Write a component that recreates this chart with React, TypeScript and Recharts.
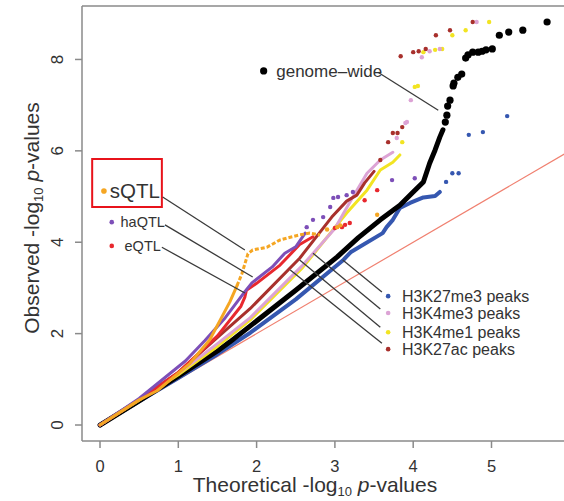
import { ComposedChart, Line, Scatter, XAxis, YAxis, ReferenceLine, ReferenceDot, ReferenceArea } from 'recharts'

// [theoretical, observed] pairs
const diagonal = [[0, 0], [5.93, 5.93]]

const genomeLine = [[0, 0], [0.5, 0.53], [1, 1.07], [1.5, 1.62], [1.66, 1.82], [1.92, 2.17], [2.5, 2.95], [3.03, 3.68], [3.3, 4.1], [3.58, 4.49], [3.83, 4.81], [4, 5.1], [4.13, 5.32], [4.21, 5.73], [4.28, 6.02], [4.34, 6.3], [4.38, 6.46]]
const genomeDots = [[4.41, 6.63], [4.43, 6.78], [4.44, 6.98], [4.47, 7.11], [4.51, 7.42], [4.52, 7.48], [4.57, 7.61], [4.62, 7.68], [4.67, 8.03], [4.7, 8.1], [4.76, 8.16], [4.83, 8.16], [4.88, 8.18], [4.93, 8.21], [5.01, 8.23], [5.1, 8.53], [5.22, 8.6], [5.4, 8.64], [5.71, 8.82]]

const k27me3Line = [[0, 0], [0.5, 0.52], [1, 1.03], [1.5, 1.55], [1.92, 2.02], [2.5, 2.75], [3.1, 3.6], [3.2, 3.78], [3.61, 4.2], [3.66, 4.33], [3.74, 4.49], [3.83, 4.75], [3.96, 4.86], [4.13, 4.98], [4.28, 5.01], [4.34, 5.1]]
const k27me3Dots = [[4.42, 5.32], [4.5, 5.51], [4.58, 5.51], [4.71, 6.35], [4.89, 6.41], [5.2, 6.76]]

const sqtlLine = [[0, 0], [0.5, 0.55], [0.73, 0.75], [1.15, 1.35], [1.4, 1.86], [1.66, 2.7], [1.75, 3.05]]
const sqtlChain = [[1.75, 3.05], [1.81, 3.3], [1.89, 3.75], [1.95, 3.83], [2.13, 3.89], [2.3, 4.05], [2.43, 4.11], [2.55, 4.16], [2.68, 4.2], [2.81, 4.16]]
const sqtlDots = [[2.9, 4.28], [3.03, 4.33], [3.07, 4.37], [3.54, 4.6]]

const haqtlLine = [[0, 0], [0.5, 0.58], [1.09, 1.4], [1.34, 1.85], [1.6, 2.35], [1.85, 2.92], [1.94, 3.11], [2.2, 3.46], [2.36, 3.76], [2.5, 3.9], [2.62, 4.2]]
const haqtlDots = [[2.64, 4.33], [2.72, 4.49], [2.85, 4.55], [2.94, 4.77], [2.98, 4.97], [3.04, 4.99], [3.15, 5.03], [3.23, 5.1], [3.73, 5.36], [4.02, 5.4]]

const eqtlLine = [[0, 0], [0.5, 0.56], [1, 1.15], [1.5, 1.95], [1.8, 2.6], [1.85, 2.8], [1.87, 2.95], [2, 3.1], [2.3, 3.5], [2.55, 3.95], [2.72, 4.12]]
const eqtlDots = [[3, 4.31], [3.09, 4.33], [3.13, 4.38], [3.19, 4.42], [3.38, 4.92], [3.54, 5.14]]

const k27acLine = [[0, 0], [0.5, 0.56], [1, 1.15], [1.49, 1.9], [1.92, 2.55], [2.55, 3.65], [2.96, 4.55], [3.15, 4.9], [3.28, 5.03], [3.38, 5.3], [3.5, 5.55]]
const k27acDots = [[3.58, 5.8], [3.68, 6.19], [3.74, 6.39], [3.8, 6.39], [3.86, 6.52], [3.84, 8.07], [4, 8.16], [4.07, 8.18], [4.16, 8.23], [4.29, 8.53], [4.47, 8.64], [4.76, 8.82]]

const k4me3Line = [[0, 0], [0.5, 0.56], [1, 1.13], [1.5, 1.78], [1.92, 2.35], [2.59, 3.5], [3, 4.3], [3.2, 4.9], [3.41, 5.51], [3.58, 5.8], [3.74, 5.97]]
const k4me3Dots = [[3.79, 6.28], [3.9, 6.61], [3.92, 6.63], [3.97, 7.11], [4.11, 8.05], [4.21, 8.18], [4.34, 8.23], [4.81, 8.82]]

const k4me1Line = [[0, 0], [0.5, 0.54], [1, 1.1], [1.5, 1.72], [1.92, 2.3], [2.59, 3.45], [3.15, 4.64], [3.41, 5.14], [3.58, 5.58], [3.74, 5.75], [3.83, 5.91]]
const k4me1Dots = [[3.86, 6.19], [4.02, 7.4], [4.06, 7.42], [4.13, 8.16], [4.28, 8.21], [4.37, 8.23], [4.5, 8.53], [4.67, 8.64], [4.97, 8.82]]

const xTicks = [0, 1, 2, 3, 4, 5]
const yTicks = [0, 2, 4, 6, 8]

const X_DOMAIN = [-0.23, 5.926]
const Y_DOMAIN = [-0.35, 9.17]

const FONT = '"Liberation Sans", Arial, Helvetica, sans-serif'
const AXIS = '#8a8a8a'
const INK = '#333'
const LEADER = '#3a3a3a'

const ORANGE = '#f5a623'
const PURPLE = '#7d4fb8'
const RED = '#e8282e'
const BLUE = '#3557b0'
const PINK = '#dca3d5'
const YELLOW = '#f2e422'
const DARKRED = '#a8302c'

const pts = (a: number[][]) => a.map(([x, y]) => ({ x, y }))

const dotShape = (color: string, r: number) => (p: any) => <circle cx={p.cx} cy={p.cy} r={r} fill={color} />

function YTick({ x, y, payload }: any) {
  const tx = x - 10
  return (
    <text x={tx} y={y} transform={`rotate(-90, ${tx}, ${y})`} textAnchor="middle" fontSize={17} fill={INK} fontFamily={FONT}>
      {payload.value}
    </text>
  )
}

function AxisTitle({ x, y, rotate, first }: { x: number; y: number; rotate?: boolean; first: string }) {
  return (
    <text x={x} y={y} textAnchor="middle" fontSize={21} fill={INK} fontFamily={FONT} transform={rotate ? `rotate(-90, ${x}, ${y})` : undefined}>
      <tspan>{first} -log</tspan>
      <tspan fontSize={13} dy={4}>10</tspan>
      <tspan dy={-4}> </tspan>
      <tspan fontStyle="italic">p</tspan>
      <tspan>-values</tspan>
    </text>
  )
}

function series(line: number[][], dots: number[][], color: string, width: number, r: number, key: string) {
  return [
    <Line key={key + 'l'} data={pts(line)} dataKey="y" type="linear" stroke={color} strokeWidth={width} strokeLinecap="round" strokeLinejoin="round" dot={false} isAnimationActive={false} />,
    <Scatter key={key + 's'} data={pts(dots)} dataKey="y" fill={color} shape={dotShape(color, r)} isAnimationActive={false} />,
  ]
}

const noteText = { fontFamily: FONT, fill: INK }

export default function App() {
  return (
    <div style={{ position: 'absolute', left: 0, top: 0, background: '#fff' }}>
      <ComposedChart width={564} height={501} margin={{ top: 6, right: 0, bottom: 0, left: 0 }}>
        <XAxis
          type="number"
          dataKey="x"
          domain={X_DOMAIN}
          ticks={xTicks}
          allowDataOverflow
          height={60}
          tickSize={7}
          tickMargin={12}
          stroke={AXIS}
          strokeWidth={1.5}
          tick={{ fill: INK, fontSize: 16.5, fontFamily: FONT }}
          label={() => <AxisTitle x={315} y={492} first="Theoretical" />}
        />
        <YAxis
          type="number"
          dataKey="y"
          domain={Y_DOMAIN}
          ticks={yTicks}
          allowDataOverflow
          width={82}
          tickSize={7}
          stroke={AXIS}
          strokeWidth={1.5}
          tick={<YTick />}
          label={() => <AxisTitle x={39} y={218} rotate first="Observed" />}
        />
        <ReferenceLine y={Y_DOMAIN[1]} stroke={AXIS} strokeWidth={1.5} />

        <Line data={pts(diagonal)} dataKey="y" type="linear" stroke="#f08070" strokeWidth={1.2} dot={false} isAnimationActive={false} />

        {series(k27me3Line, k27me3Dots, BLUE, 4, 2.2, 'k27me3')}
        {series(genomeLine, genomeDots, '#000', 5, 3.6, 'genome')}
        {series(k4me1Line, k4me1Dots, YELLOW, 3, 2.2, 'k4me1')}
        {series(k4me3Line, k4me3Dots, PINK, 3, 2.2, 'k4me3')}
        {series(k27acLine, k27acDots, DARKRED, 3, 2.2, 'k27ac')}
        {series(eqtlLine, eqtlDots, RED, 3, 2.2, 'eqtl')}
        {series(haqtlLine, haqtlDots, PURPLE, 3, 2.2, 'haqtl')}
        {series(sqtlLine, sqtlDots, ORANGE, 3, 2.2, 'sqtl')}
        <Line data={pts(sqtlChain)} dataKey="y" type="linear" stroke={ORANGE} strokeWidth={3} strokeDasharray="4 2" dot={false} isAnimationActive={false} />

        {/* leader lines */}
        <ReferenceLine segment={[{ x: 3.55, y: 7.72 }, { x: 4.32, y: 6.89 }]} stroke={LEADER} strokeWidth={1.3} />
        <ReferenceLine segment={[{ x: 0.8, y: 4.99 }, { x: 1.85, y: 3.83 }]} stroke={LEADER} strokeWidth={1.3} />
        <ReferenceLine segment={[{ x: 0.83, y: 4.38 }, { x: 1.95, y: 3.24 }]} stroke={LEADER} strokeWidth={1.3} />
        <ReferenceLine segment={[{ x: 0.79, y: 3.89 }, { x: 1.85, y: 2.89 }]} stroke={LEADER} strokeWidth={1.3} />
        <ReferenceLine segment={[{ x: 3.1, y: 3.61 }, { x: 3.6, y: 2.91 }]} stroke={LEADER} strokeWidth={1.3} />
        <ReferenceLine segment={[{ x: 2.72, y: 3.76 }, { x: 3.58, y: 2.54 }]} stroke={LEADER} strokeWidth={1.3} />
        <ReferenceLine segment={[{ x: 2.55, y: 3.61 }, { x: 3.58, y: 2.14 }]} stroke={LEADER} strokeWidth={1.3} />
        <ReferenceLine segment={[{ x: 2.43, y: 3.39 }, { x: 3.6, y: 1.79 }]} stroke={LEADER} strokeWidth={1.3} />

        {/* labels */}
        <ReferenceDot x={2.09} y={7.75} r={3.6} fill="#000" stroke="none" label={{ value: 'genome–wide', position: 'right', offset: 9, fontSize: 17, ...noteText }} />
        <ReferenceDot x={0.05} y={5.12} r={2.8} fill={ORANGE} stroke="none" label={{ value: 'sQTL', position: 'right', offset: 3, fontSize: 20.5, ...noteText }} />
        <ReferenceDot x={0.15} y={4.44} r={2.3} fill={PURPLE} stroke="none" label={{ value: 'haQTL', position: 'right', offset: 6.5, fontSize: 14.5, ...noteText }} />
        <ReferenceDot x={0.15} y={3.92} r={2.3} fill={RED} stroke="none" label={{ value: 'eQTL', position: 'right', offset: 10.5, fontSize: 14.5, ...noteText }} />
        <ReferenceDot x={3.68} y={2.82} r={2.3} fill={BLUE} stroke="none" label={{ value: 'H3K27me3 peaks', position: 'right', offset: 11.5, fontSize: 16, ...noteText }} />
        <ReferenceDot x={3.68} y={2.45} r={2.3} fill={PINK} stroke="none" label={{ value: 'H3K4me3 peaks', position: 'right', offset: 11.5, fontSize: 16, ...noteText }} />
        <ReferenceDot x={3.68} y={2.03} r={2.3} fill={YELLOW} stroke="none" label={{ value: 'H3K4me1 peaks', position: 'right', offset: 11.5, fontSize: 16, ...noteText }} />
        <ReferenceDot x={3.68} y={1.66} r={2.3} fill={DARKRED} stroke="none" label={{ value: 'H3K27ac peaks', position: 'right', offset: 11.5, fontSize: 16, ...noteText }} />

        <ReferenceArea x1={-0.1} x2={0.79} y1={4.77} y2={5.82} fill="none" fillOpacity={0} stroke="#e8131b" strokeWidth={2} />
      </ComposedChart>
    </div>
  )
}
